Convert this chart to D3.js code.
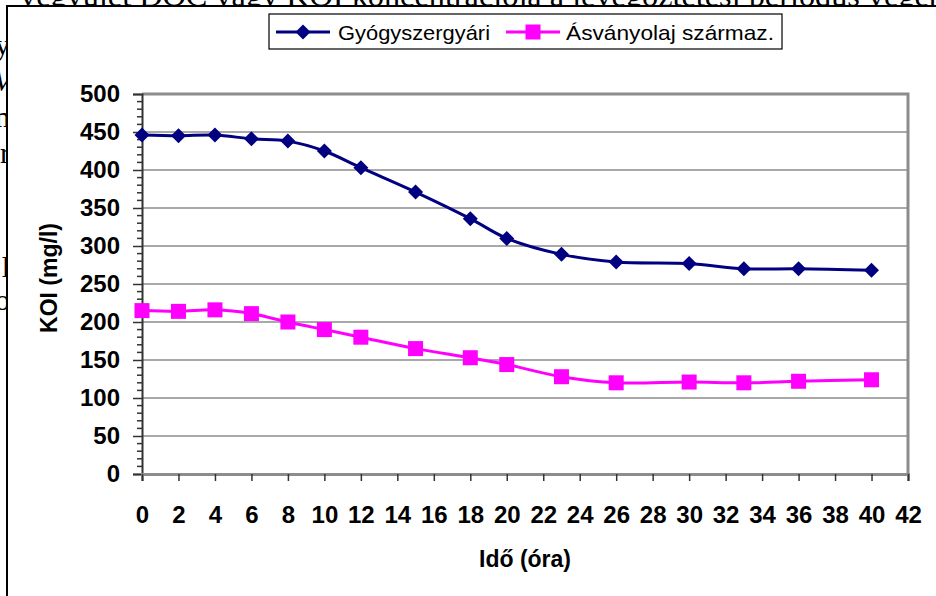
<!DOCTYPE html>
<html><head><meta charset="utf-8">
<script src="https://cdn.jsdelivr.net/npm/d3@7"></script>
<style>html,body{margin:0;padding:0;background:#fff;overflow:hidden}</style>
</head><body>
<svg id="c" width="936" height="596"></svg>
<script>
const hours = [0,2,4,6,8,10,12,15,18,20,23,26,30,33,36,40];
const gyogyszergyari = [446,445,446,441,438,425,403,371,336,310,289,279,277,270,270,268];
const asvanyolaj = [215,214,216,211,200,190,180,165,153,144,128,120,121,120,122,124];
const seriesNames = ["Gyógyszergyári","Ásványolaj származ."];
const xTicks = d3.range(0,43,2);
const yTicks = d3.range(0,501,50);
const bgTop = "vegyület DOC vagy KOI koncentrációja a levegőztetési periódus végén";
const bgLeft = [["y",55],["M",91],["n",127],["r",163],["l",277],["o",310]];

const svg = d3.select("#c");
// background document text
svg.append("text").attr("x",20).attr("y",6).attr("font-family","Liberation Serif, Times New Roman, serif")
  .attr("font-size",30).attr("textLength",925).attr("lengthAdjust","spacingAndGlyphs").attr("fill","#000").text(bgTop);
svg.selectAll(".bgl").data(bgLeft).enter().append("text")
  .attr("x",d=>d[0]==="M"?16:10).attr("y",d=>d[1]).attr("text-anchor","end")
  .attr("font-family","Liberation Serif, Times New Roman, serif").attr("font-size",30).attr("fill","#000")
  .attr("font-style",d=>d[0]==="M"?"italic":"normal").text(d=>d[0]);
// chart area box
svg.append("rect").attr("x",7).attr("y",6).attr("width",1000).attr("height",700)
  .attr("fill","#fff").attr("stroke","#000").attr("stroke-width",2);

const x = d3.scaleLinear().domain([0,42]).range([142,908]);
const y = d3.scaleLinear().domain([0,500]).range([474,94]);

// gridlines
svg.append("g").selectAll("line").data(yTicks.filter(v=>v>0&&v<500)).enter().append("line")
  .attr("x1",142).attr("x2",908).attr("y1",d=>y(d)).attr("y2",d=>y(d))
  .attr("stroke","#555").attr("stroke-width",1.2);
// plot border top/right
svg.append("path").attr("d",`M142,${y(500)}H908V${y(0)}`).attr("fill","none")
  .attr("stroke","#8c8c8c").attr("stroke-width",3);

const font = "Liberation Sans, Arial, sans-serif";
// y axis
const yAxis = d3.axisLeft(y).tickValues(yTicks).tickSize(9).tickPadding(13);
const gy = svg.append("g").attr("transform","translate(142,0)").call(yAxis);
gy.select(".domain").attr("stroke","#333").attr("stroke-width",2);
gy.selectAll(".tick line").attr("stroke","#333").attr("stroke-width",1.5);
gy.selectAll(".tick text").attr("font-family",font)
  .attr("font-weight","bold").attr("font-size",24).attr("fill","#000");
// minor y ticks
svg.append("g").selectAll("line").data(d3.range(0,501,10).filter(v=>v%50!==0)).enter().append("line")
  .attr("x1",137).attr("x2",142).attr("y1",d=>y(d)).attr("y2",d=>y(d))
  .attr("stroke","#333").attr("stroke-width",1.5);

// x axis
const xAxis = d3.axisBottom(x).tickValues(xTicks).tickSize(7).tickPadding(25);
const gx = svg.append("g").attr("transform",`translate(0,${y(0)})`).call(xAxis);
gx.select(".domain").attr("stroke","#8c8c8c").attr("stroke-width",3);
gx.selectAll(".tick line").attr("stroke","#333").attr("stroke-width",1.5);
gx.selectAll(".tick text").attr("font-family",font)
  .attr("font-weight","bold").attr("font-size",24).attr("fill","#000");

// axis titles
svg.append("text").attr("transform","translate(57,278) rotate(-90)").attr("text-anchor","middle")
  .attr("font-family",font).attr("font-weight","bold").attr("font-size",23)
  .text("KOI (mg/l)");
svg.append("text").attr("x",525).attr("y",567).attr("text-anchor","middle")
  .attr("font-family",font).attr("font-weight","bold").attr("font-size",23)
  .text("Idő (óra)");

// lines
const line = d3.line().x(d=>x(d[0])).y(d=>y(d[1])).curve(d3.curveCatmullRom.alpha(0.5));
const colors = ["#000080","#ff00ff"];
const data = [gyogyszergyari, asvanyolaj].map(s=>hours.map((h,i)=>[h,s[i]]));
data.forEach((d,k)=>{
  svg.append("path").datum(d).attr("d",line).attr("fill","none").attr("stroke",colors[k]).attr("stroke-width",3);
});
const diamond = "M0,-7.5L7.5,0L0,7.5L-7.5,0Z";
svg.append("g").selectAll("path").data(data[0]).enter().append("path")
  .attr("d",diamond).attr("transform",d=>`translate(${x(d[0])},${y(d[1])})`).attr("fill",colors[0]);
svg.append("g").selectAll("rect").data(data[1]).enter().append("rect")
  .attr("x",d=>x(d[0])-7.5).attr("y",d=>y(d[1])-7.5).attr("width",15).attr("height",15).attr("fill",colors[1]);

// legend
const lg = svg.append("g");
lg.append("rect").attr("x",269).attr("y",14).attr("width",513).attr("height",35)
  .attr("fill","#fff").attr("stroke","#000").attr("stroke-width",1.2);
const legendItems = [{sx:276,tx:338,tl:152},{sx:506,tx:566,tl:208}];
legendItems.forEach((it,k)=>{
  lg.append("line").attr("x1",it.sx).attr("x2",it.sx+54).attr("y1",32).attr("y2",32)
    .attr("stroke",colors[k]).attr("stroke-width",3);
  if(k===0) lg.append("path").attr("d",diamond).attr("transform",`translate(${it.sx+27},32)`).attr("fill",colors[0]);
  else lg.append("rect").attr("x",it.sx+27-7.5).attr("y",32-7.5).attr("width",15).attr("height",15).attr("fill",colors[1]);
  lg.append("text").attr("x",it.tx).attr("y",40).attr("font-family",font)
    .attr("font-size",21).attr("textLength",it.tl).attr("lengthAdjust","spacingAndGlyphs").text(seriesNames[k]);
});
</script>
</body></html>
